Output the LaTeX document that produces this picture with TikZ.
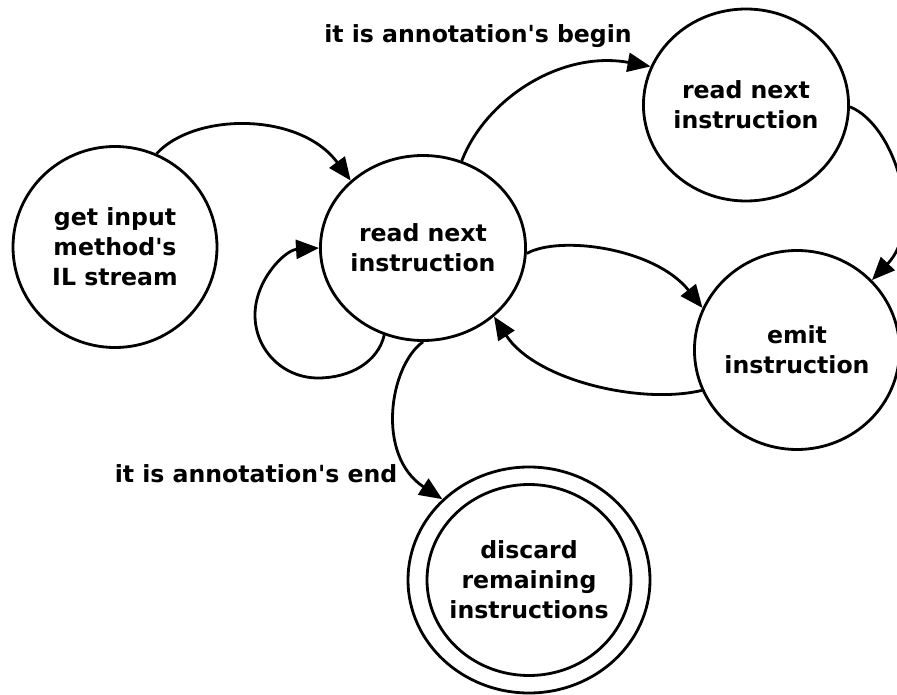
\documentclass[tikz,border=0pt]{standalone}
\usepackage{fontspec}
\setmainfont{DejaVu Sans}
\usetikzlibrary{shapes.geometric,arrows.meta}

\tikzset{
  state/.style={draw, ellipse, line width=2.8pt, inner sep=0pt, align=center,
    font=\bfseries\fontsize{23.6}{30}\selectfont},
  edge/.style={line width=2.8pt, -{Triangle[length=23pt,width=19pt]}},
  lbl/.style={font=\bfseries\fontsize{23.6}{30}\selectfont, inner sep=0pt, anchor=base}
}

\begin{document}
\begin{tikzpicture}[x=1pt, y=-1pt]
  \useasboundingbox (0,0) rectangle (897,695);
  \clip (0,0) rectangle (897,695);
  \fill[white] (0,0) rectangle (897,695);

  % states
  \node[state, minimum width=204pt, minimum height=201pt] (gi) at (115,247)
    {get input\\method\textquotesingle s\\IL stream};
  \node[state, minimum width=204pt, minimum height=185pt] (rn) at (423,248)
    {read next\\instruction};
  \node[state, minimum width=201pt, minimum height=192pt] (tr) at (746,105)
    {read next\\instruction};
  \node[state, minimum width=199pt, minimum height=199pt] (em) at (797,350)
    {emit\\instruction};
  \node[state, minimum width=242pt, minimum height=226pt] (dc) at (529,580)
    {discard\\remaining\\instructions};
  \node[draw, ellipse, line width=2.8pt, minimum width=204pt, minimum height=191pt]
    (dcin) at (529,580) {};

  % transition labels
  \node[lbl] (lbegin) at (478,43) {it is annotation\textquotesingle s begin};
  \node[lbl] (lend) at (256,482) {it is annotation\textquotesingle s end};

  % transitions
  \draw[edge] (gi.66) .. controls (195,112) and (300,112) .. (rn.137);
  \draw[edge] (rn.246) .. controls (378,362) and (350,378) .. (318,378)
              .. controls (283,378) and (255,350) .. (255,315)
              .. controls (255,280) and (285,250) .. (rn.180);
  \draw[edge] (rn.66) .. controls (485,100) and (560,50) .. (tr.158);
  \draw[edge] (tr.359) .. controls (895,125) and (925,225) .. (em.43);
  \draw[edge] (rn.357) .. controls (560,235) and (655,248) .. (em.156);
  \draw[edge] (em.203) .. controls (640,405) and (535,380) .. (rn.316);
  \draw[edge] (rn.270) .. controls (390,365) and (375,455) .. (dc.137);
\end{tikzpicture}
\end{document}
